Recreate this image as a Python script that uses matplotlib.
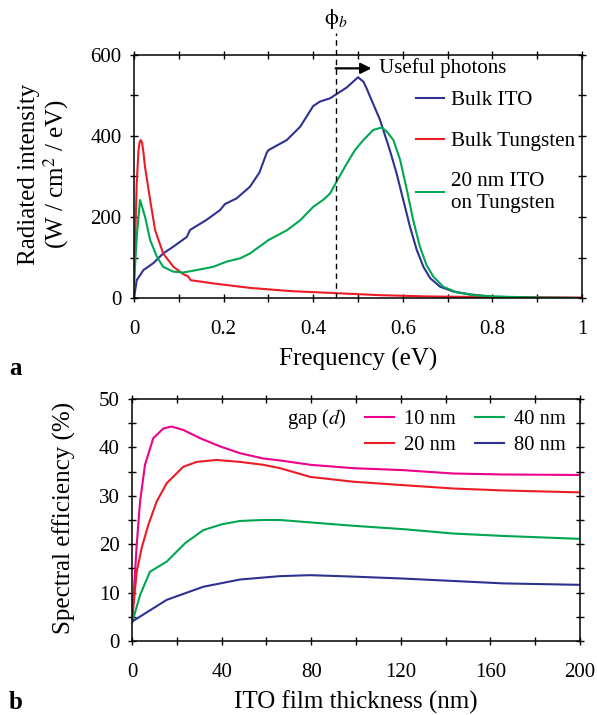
import matplotlib
matplotlib.use("Agg")
import matplotlib.pyplot as plt
from matplotlib.ticker import MultipleLocator

# ---- panel a: radiated intensity vs frequency ----
ito_x = [0, 0.006, 0.021, 0.043, 0.065, 0.088, 0.118, 0.125, 0.162, 0.192, 0.203,
         0.229, 0.259, 0.28, 0.296, 0.3, 0.341, 0.371, 0.4, 0.415, 0.4375, 0.475,
         0.5, 0.512, 0.519, 0.527, 0.549, 0.571, 0.586, 0.601, 0.616, 0.631, 0.646,
         0.661, 0.683, 0.713, 0.75, 0.8, 0.9, 1.0]
ito_y = [0, 44, 69, 86, 110, 127, 151, 168, 193, 217, 232,
         246, 275, 310, 358, 365, 390, 423, 474, 485, 493, 520,
         545, 534, 518, 497, 440, 365, 308, 242, 176, 119, 77,
         49, 28, 16, 9, 3, 1, 0]

w_x = [0, 0.006, 0.010, 0.0125, 0.015, 0.018, 0.021, 0.0245, 0.036, 0.047, 0.065,
       0.088, 0.11, 0.121, 0.1265, 0.177, 0.259, 0.35, 0.45, 0.55, 0.65, 0.8, 1.0]
w_y = [36, 283, 365, 385, 390, 383, 360, 324, 242, 168, 110,
       77, 59, 53, 44, 36, 25, 17, 12, 7, 4, 2, 1]

itow_x = [0, 0.006, 0.0134, 0.0245, 0.036, 0.051, 0.065, 0.088, 0.11, 0.14, 0.177,
          0.207, 0.237, 0.259, 0.3, 0.341, 0.371, 0.4, 0.423, 0.4375, 0.456, 0.475,
          0.493, 0.512, 0.534, 0.553, 0.564, 0.579, 0.594, 0.609, 0.623, 0.638,
          0.653, 0.668, 0.69, 0.72, 0.757, 0.8, 0.9, 1.0]
itow_y = [35, 150, 242, 201, 143, 102, 77, 65, 63, 69, 77,
          90, 98, 110, 143, 167, 192, 225, 243, 258, 295, 332,
          365, 390, 415, 421, 411, 390, 341, 267, 193, 127,
          81, 53, 28, 14, 7, 4, 1, 0]

phi_b = 0.45

# ---- panel b: spectral efficiency vs ITO thickness ----
thick = [0, 2.1, 3.6, 5.8, 9.5, 14.0, 17.7, 22.9, 30.4, 39.3, 48.2, 58.6, 66.1,
         79.6, 98.9, 121, 143.5, 165.8, 200]
eff_10 = [4.0, 19.8, 28.8, 36.4, 41.9, 43.9, 44.3, 43.6, 41.9, 40.2, 38.8, 37.7, 37.3,
          36.4, 35.7, 35.3, 34.6, 34.4, 34.3]

thick_20 = [0, 2.1, 4.3, 7.3, 11.0, 15.5, 22.9, 28.9, 37.8, 48.2, 58.6, 66.1,
            79.6, 98.9, 121, 143.5, 165.8, 200]
eff_20 = [4.0, 14.3, 19.2, 24.0, 28.8, 32.6, 36.0, 37.0, 37.4, 37.0, 36.4, 35.7,
          33.9, 32.9, 32.2, 31.5, 31.1, 30.7]

thick_40 = [0, 3.6, 8.0, 15.5, 23.7, 31.8, 40, 48.2, 58.6, 66.1,
            79.6, 98.9, 121.2, 143.5, 165.8, 200]
eff_40 = [3.7, 9.5, 14.3, 16.4, 20.2, 22.9, 24.1, 24.8, 25.0, 25.0,
          24.5, 23.8, 23.1, 22.2, 21.7, 21.1]

thick_80 = [0, 15.5, 31.8, 48.2, 66.1, 79.6, 98.9, 121, 143.5, 165.8, 200]
eff_80 = [4.0, 8.5, 11.2, 12.7, 13.4, 13.6, 13.3, 12.9, 12.4, 11.9, 11.6]

BLUE = '#2e3192'
RED = '#ed1c24'
GREEN = '#00a651'
MAGENTA = '#ec008c'

plt.rcParams['font.family'] = ['Liberation Serif', 'DejaVu Serif']
plt.rcParams['mathtext.fontset'] = 'stix'
plt.rcParams['axes.linewidth'] = 1.1

fig = plt.figure(figsize=(5.97, 7.15), dpi=100)
ax1 = fig.add_axes([0.2245, 0.5832, 0.7504, 0.3399])
ax2 = fig.add_axes([0.2211, 0.1035, 0.7504, 0.3385])


def style_ticks(ax):
    for which in ('major', 'minor'):
        ax.tick_params(axis='both', which=which, direction='inout', length=6, width=1,
                       top=True, right=True, labelsize=15, color='k')
    ax.tick_params(axis='x', which='major', pad=13)
    ax.tick_params(axis='y', which='major', pad=6)


lw = 1.5
ax1.plot(ito_x, ito_y, color=BLUE, lw=lw, label='Bulk ITO')
ax1.plot(w_x, w_y, color=RED, lw=lw, label='Bulk Tungsten')
ax1.plot(itow_x, itow_y, color=GREEN, lw=lw, label='20 nm ITO\non Tungsten')
ax1.plot([phi_b, phi_b], [0, 655], color='k', lw=1, ls=(0, (4, 3)), clip_on=False)
ax1.text(phi_b, 660, r'$\mathrm{\phi}_{\mathit{b}}$', ha='center', va='bottom', fontsize=16)
ax1.annotate('', xy=(0.53, 567), xytext=(phi_b, 567),
             arrowprops=dict(arrowstyle='-|>', color='k', lw=1.6, mutation_scale=16,
                             shrinkA=0, shrinkB=0))
ax1.text(0.546, 567, 'Useful photons', ha='left', va='center', fontsize=15)
ax1.set_xlim(0, 1)
ax1.set_ylim(0, 600)
ax1.xaxis.set_major_locator(MultipleLocator(0.2))
ax1.xaxis.set_minor_locator(MultipleLocator(0.1))
ax1.yaxis.set_major_locator(MultipleLocator(200))
ax1.yaxis.set_minor_locator(MultipleLocator(100))
ax1.xaxis.set_major_formatter(plt.FuncFormatter(lambda v, p: '%g' % v))
style_ticks(ax1)
ax1.set_xlabel('Frequency (eV)', fontsize=18, labelpad=6)
ax1.set_ylabel('Radiated intensity\n(W / cm$^2$ / eV)', fontsize=18, linespacing=1.05)
ax1.yaxis.set_label_coords(-0.14, 0.51)
ax1.legend(loc='upper left', bbox_to_anchor=(0.63, 0.855), frameon=False, fontsize=15.2,
           handlelength=1.3, handletextpad=0.35, labelspacing=1.0,
           borderpad=0, borderaxespad=0)

ax2.plot(thick, eff_10, color=MAGENTA, lw=lw, label='10 nm')
ax2.plot(thick_20, eff_20, color=RED, lw=lw, label='20 nm')
ax2.plot(thick_40, eff_40, color=GREEN, lw=lw, label='40 nm')
ax2.plot(thick_80, eff_80, color=BLUE, lw=lw, label='80 nm')
ax2.set_xlim(0, 200)
ax2.set_ylim(0, 50)
ax2.xaxis.set_major_locator(MultipleLocator(40))
ax2.xaxis.set_minor_locator(MultipleLocator(20))
ax2.yaxis.set_major_locator(MultipleLocator(10))
ax2.yaxis.set_minor_locator(MultipleLocator(5))
style_ticks(ax2)
ax2.set_xlabel('ITO film thickness (nm)', fontsize=18, labelpad=6)
ax2.set_ylabel('Spectral efficiency (%)', fontsize=18)
ax2.yaxis.set_label_coords(-0.125, 0.51)
ax2.legend(loc='upper left', bbox_to_anchor=(0.52, 0.955), ncol=2, frameon=False,
           fontsize=14.8, handlelength=1.4, handletextpad=0.5, columnspacing=0.95,
           labelspacing=0.3, borderpad=0, borderaxespad=0)
ax2.text(96, 45.8, 'gap ($d$)', ha='right', va='center', fontsize=14.8)

fig.text(0.015, 0.485, 'a', fontsize=18, fontweight='bold', ha='left', va='center')
fig.text(0.015, 0.001, 'b', fontsize=18, fontweight='bold', ha='left', va='bottom')

fig.savefig('out.png', dpi=100)
